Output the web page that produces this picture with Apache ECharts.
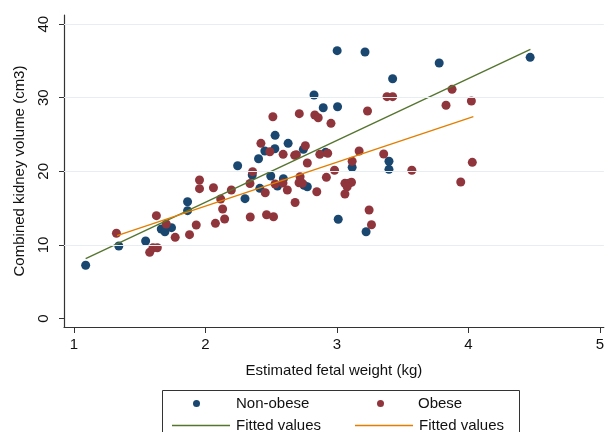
<!DOCTYPE html>
<html>
<head>
<meta charset="utf-8">
<script src="https://cdn.jsdelivr.net/npm/echarts@6/dist/echarts.min.js"></script>
<style>
html,body{margin:0;padding:0;background:#fff;}
#c{width:607px;height:432px;}
</style>
</head>
<body>
<div id="c"></div>
<script>
// Estimated fetal weight (kg), combined kidney volume (cm3)
var nonObese = [
  [1.089,7.23],[1.341,9.85],[1.545,10.53],[1.664,12.16],[1.692,11.79],[1.742,12.34],
  [1.864,15.87],[1.864,14.65],[2.245,20.76],[2.301,16.28],[2.356,19.5],[2.404,21.71],
  [2.414,17.69],[2.452,22.76],[2.497,19.36],[2.528,23.07],[2.530,24.89],[2.548,18.0],
  [2.593,18.99],[2.629,23.8],[2.745,22.99],[2.75,18.1],[2.775,17.91],[2.826,30.37],
  [2.896,28.64],[2.914,22.58],[3.002,36.39],[3.005,28.78],[3.010,13.48],[3.116,20.54],
  [3.214,36.21],[3.222,11.79],[3.396,21.36],[3.396,20.27],[3.424,32.58],[3.778,34.71],
  [4.470,35.49]
];
var obese = [
  [1.323,11.58],[1.576,8.99],[1.601,9.62],[1.634,9.62],[1.627,13.97],[1.702,12.84],
  [1.770,11.03],[1.879,11.39],[1.930,12.70],[1.955,18.82],[1.955,17.64],[2.061,17.77],
  [2.076,12.93],[2.116,16.24],[2.131,14.88],[2.146,13.52],[2.197,17.46],[2.339,18.34],
  [2.341,13.79],[2.359,19.95],[2.422,23.80],[2.455,17.09],[2.465,14.10],[2.490,22.66],
  [2.513,27.42],[2.518,13.83],[2.530,18.27],[2.59,18.4],[2.591,22.31],[2.623,17.46],
  [2.679,22.17],[2.692,22.26],[2.682,15.76],[2.714,27.83],[2.720,19.27],[2.712,18.45],
  [2.737,18.37],[2.760,23.48],[2.775,21.13],[2.832,27.65],[2.858,27.28],[2.847,17.23],
  [2.870,22.31],[2.930,22.45],[2.920,19.18],[2.955,26.52],[2.982,20.14],[3.061,18.37],
  [3.091,18.37],[3.111,18.51],[3.078,17.91],[3.061,16.92],[3.116,21.36],[3.169,22.76],
  [3.233,28.19],[3.245,14.74],[3.263,12.74],[3.356,22.35],[3.381,30.14],[3.424,30.14],
  [3.570,20.14],[3.830,28.97],[3.876,31.14],[3.942,18.55],[4.023,29.55],[4.030,21.22]
];
var fitNonObese = [[1.089,8.13],[4.472,36.57]];
var fitObese = [[1.328,11.25],[4.038,27.42]];
var xTicks = [1,2,3,4,5];
var yTicks = [0,10,20,30,40];
var xTitle = 'Estimated fetal weight (kg)';
var yTitle = 'Combined kidney volume (cm3)';
var legendNames = ['Non-obese','Obese','Fitted values','Fitted values'];

var NAVY='#1a476f', MAROON='#90353b', GREEN='#55752f', ORANGE='#e37e00';
var FONT='Liberation Sans, Arial, sans-serif';

var chart = echarts.init(document.getElementById('c'), null, {renderer:'canvas'});
function leg(extra, pad){
  return Object.assign({
    orient:'horizontal', itemWidth:58, itemHeight:8, itemGap:0,
    textStyle:{fontFamily:FONT, fontSize:15, color:'#111', padding:[0,0,0,pad]},
    selectedMode:false
  }, extra);
}
chart.setOption({
  animation:false,
  backgroundColor:'#fff',
  grid:{left:64, top:15, width:542, height:312, containLabel:false},
  xAxis:{
    type:'value', min:0.9242, max:5.0303,
    name:xTitle, nameLocation:'middle', nameGap:36,
    nameTextStyle:{fontFamily:FONT, fontSize:15, color:'#111'},
    axisLine:{show:true, onZero:false, lineStyle:{color:'#333', width:1.2}},
    axisTick:{show:true, inside:false, length:6, customValues:xTicks, lineStyle:{color:'#333'}},
    axisLabel:{customValues:xTicks, fontFamily:FONT, fontSize:15, color:'#111', margin:10},
    splitLine:{show:false}
  },
  yAxis:{
    type:'value', min:-1.155, max:41.24,
    name:yTitle, nameLocation:'middle', nameGap:37, nameRotate:90,
    nameTextStyle:{fontFamily:FONT, fontSize:15, color:'#111'},
    axisLine:{show:true, onZero:false, lineStyle:{color:'#333', width:1.2}},
    axisTick:{show:true, inside:false, length:5, customValues:yTicks, lineStyle:{color:'#333'}},
    axisLabel:{customValues:yTicks, rotate:90, fontFamily:FONT, fontSize:15, color:'#111', margin:13},
    splitLine:{show:false}
  },
  legend:[
    leg({left:188, top:391, itemWidth:7, itemHeight:7, data:[{name:'Non-obese', icon:'circle'}]}, 31),
    leg({left:372, top:391, itemWidth:7, itemHeight:7, data:[{name:'Obese', icon:'circle'}]}, 29),
    leg({left:167, top:413, itemHeight:1.5, data:[{name:'fitA', icon:'rect'}],
      formatter:function(){return legendNames[2];}}, 1),
    leg({left:350, top:413, itemHeight:1.5, data:[{name:'fitB', icon:'rect'}],
      formatter:function(){return legendNames[3];}}, 1)
  ],
  graphic:[{
    type:'rect', left:160, top:388, silent:true,
    shape:{width:357, height:70},
    style:{fill:'none', stroke:'#333', lineWidth:1}
  }],
  series:[
    {
      name:legendNames[0], type:'scatter', data:nonObese, symbol:'circle', symbolSize:9,
      itemStyle:{color:NAVY, opacity:1},
      markLine:{
        silent:true, symbol:['none','none'], label:{show:false},
        lineStyle:{color:'#e6eef1', width:1.2, type:'solid'},
        data:yTicks.filter(function(v){return v>0;}).map(function(v){return {yAxis:v};})
      },
      z:2
    },
    {name:legendNames[1], type:'scatter', data:obese, symbol:'circle', symbolSize:9,
      itemStyle:{color:MAROON, opacity:1}, z:3},
    {name:'fitA', type:'line', data:fitNonObese, showSymbol:false, symbol:'none',
      lineStyle:{color:GREEN, width:1.4}, itemStyle:{color:GREEN}, z:4},
    {name:'fitB', type:'line', data:fitObese, showSymbol:false, symbol:'none',
      lineStyle:{color:ORANGE, width:1.4}, itemStyle:{color:ORANGE}, z:5}
  ]
});
</script>
</body>
</html>
